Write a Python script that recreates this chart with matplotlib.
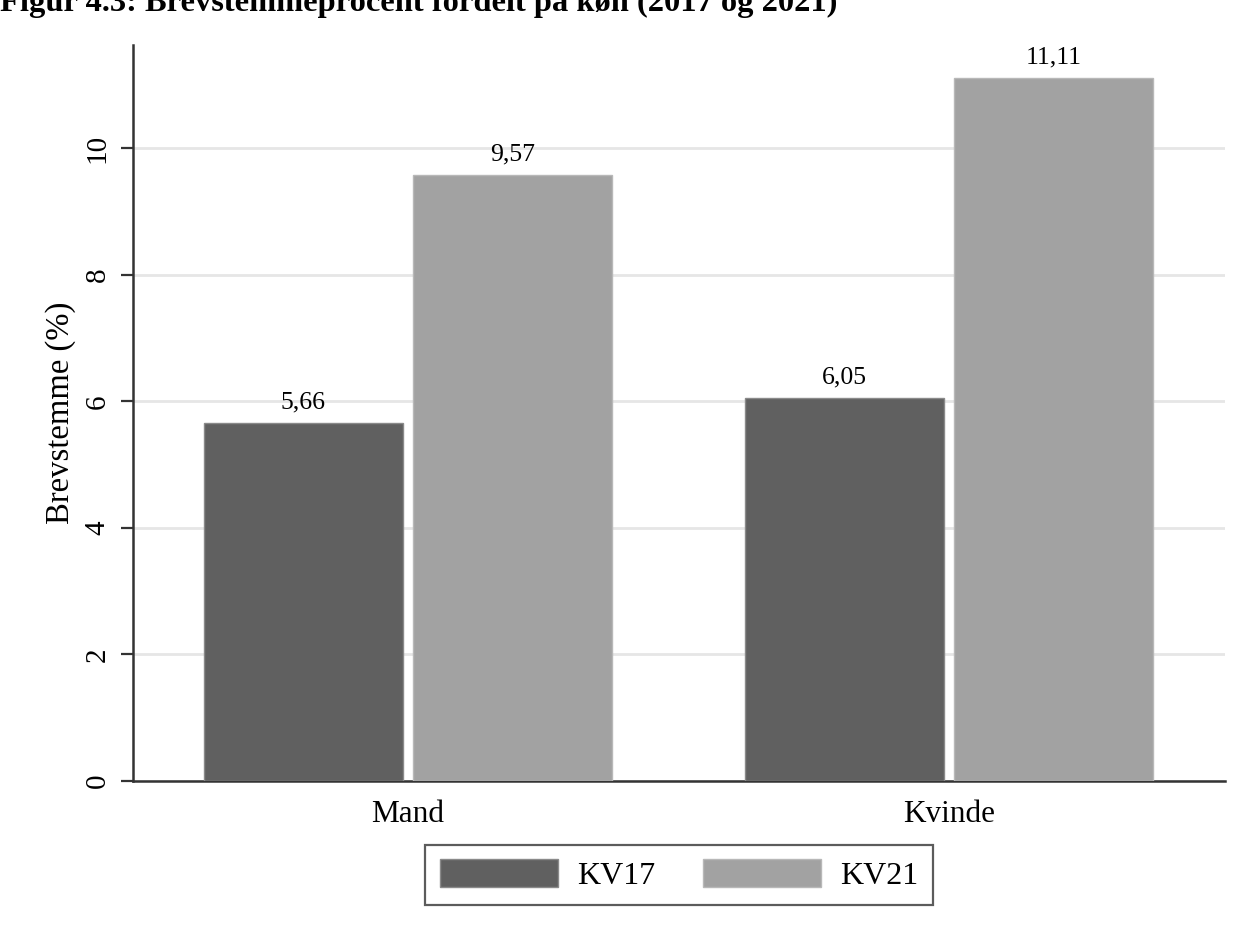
import matplotlib
matplotlib.use("Agg")
import matplotlib.pyplot as plt
from matplotlib.patches import Patch
import numpy as np

categories = ["Mand", "Kvinde"]
series = ["KV17", "KV21"]
kv17 = [5.66, 6.05]
kv21 = [9.57, 11.11]
yticks = [0, 2, 4, 6, 8, 10]
title = "Figur 4.3: Brevstemmeprocent fordelt på køn (2017 og 2021)"
ylabel = "Brevstemme (%)"

plt.rcParams["font.family"] = ["Liberation Serif", "DejaVu Serif"]

fig = plt.figure(figsize=(12.46, 9.40), dpi=100)
ax = fig.add_axes([133/1246, 1-781/940, (1225-133)/1246, (781-45)/940])

x = np.arange(len(categories))
w = 0.368
off = 0.193
c1, c2 = "#606060", "#a2a2a2"
b1 = ax.bar(x - off, kv17, w, color=c1, edgecolor="#8a8a8a", linewidth=1.0, zorder=3)
b2 = ax.bar(x + off, kv21, w, color=c2, edgecolor="#b8b8b8", linewidth=1.0, zorder=3)

def fmt(v):
    return f"{v:.2f}".replace(".", ",")

for bars, vals in ((b1, kv17), (b2, kv21)):
    for r, v in zip(bars, vals):
        ax.annotate(fmt(v), (r.get_x() + r.get_width()/2, v), xytext=(0, 7),
                    textcoords="offset points", ha="center", va="bottom", fontsize=18.5)

ax.set_xlim(-0.508, 1.510)
ax.set_ylim(0, 11.63)
ax.set_yticks(yticks)
ax.set_yticklabels([str(t) for t in yticks], rotation=90, va="center", fontsize=21)
ax.set_xticks(x)
ax.set_xticklabels(categories, fontsize=22.5)
ax.tick_params(axis="x", length=0, pad=14)
ax.tick_params(axis="y", length=9, width=1.6, color="#333333", pad=7)
ax.set_ylabel(ylabel, fontsize=23.5, labelpad=6)
ax.yaxis.grid(True, color="#e6e6e6", linewidth=2)
ax.set_axisbelow(True)
for s in ("top", "right"):
    ax.spines[s].set_visible(False)
for s in ("left", "bottom"):
    ax.spines[s].set_linewidth(1.8)
    ax.spines[s].set_color("#333333")

handles = [Patch(facecolor=c1, edgecolor="#8a8a8a"), Patch(facecolor=c2, edgecolor="#b8b8b8")]
leg = fig.legend(handles, series, loc="center", bbox_to_anchor=(679/1246, 1-875/940),
                 ncol=2, frameon=True, fancybox=False, fontsize=23,
                 handlelength=3.7, handleheight=1.0, columnspacing=1.5, handletextpad=0.6,
                 borderpad=0.45, borderaxespad=0, edgecolor="#333333")
leg.get_frame().set_linewidth(1.6)

fig.text(0.0, 1-11/940, title, fontsize=23.4, fontweight="bold", ha="left", va="baseline")

fig.savefig("out.png", dpi=100)
